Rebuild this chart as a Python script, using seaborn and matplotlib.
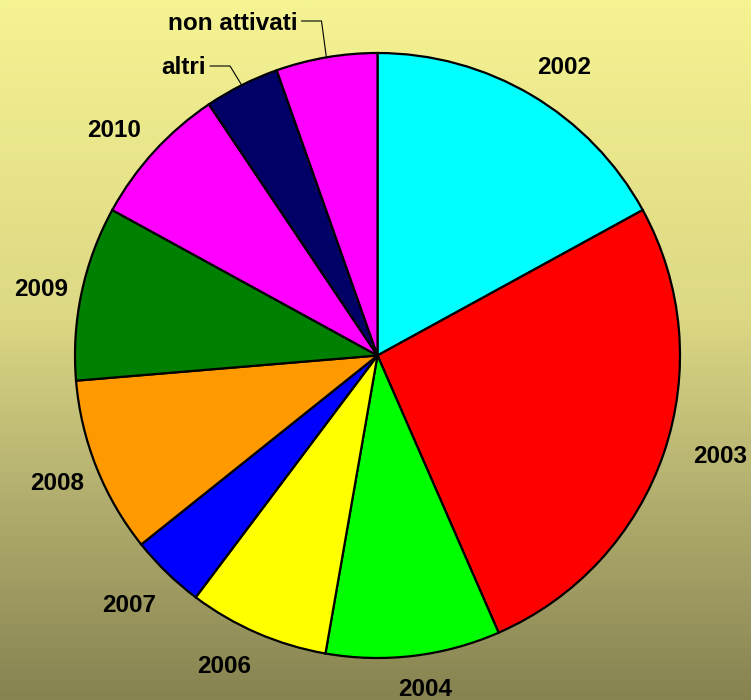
import numpy as np
import matplotlib
matplotlib.use('Agg')
import matplotlib.pyplot as plt
from matplotlib.colors import LinearSegmentedColormap
import seaborn as sns

# ── data (clockwise from 12 o'clock) ─────────────────────────────
labels = ['2002', '2003', '2004', '2006', '2007', '2008', '2009', '2010',
          'altri', 'non attivati']
shares = [17.0, 26.4, 9.3, 7.5, 4.0, 9.4, 9.3, 7.6, 4.0, 5.4]
colors = ['#00FFFF', '#FF0000', '#00FF00', '#FFFF00', '#0000FF', '#FF9900',
          '#008000', '#FF00FF', '#000066', '#FF00FF']

# ── layout (pixels from top-left of the 751x700 picture) ─────────
R = 302.5
cx, cy = 377.5, 355.5
# label anchor: (x, baseline y, horizontal alignment)
label_anchor = {
    '2002': (563.7, 74.3, 'center'),
    '2003': (720.0, 463.0, 'center'),
    '2004': (425.5, 696.5, 'center'),
    '2006': (223.7, 673.3, 'center'),
    '2007': (129.0, 611.5, 'center'),
    '2008': (56.7, 490.5, 'center'),
    '2009': (41.0, 296.5, 'center'),
    '2010': (114.0, 137.3, 'center'),
    'altri': (205.5, 74.0, 'right'),
    'non attivati': (298.0, 30.0, 'right'),
}
# leader lines: (start x, corner x, y) - last point is the slice edge
leader = {'altri': (210, 230, 66), 'non attivati': (301.5, 321.5, 21)}


def px(x, y):
    return (x - cx) / R, (cy - y) / R


sns.set_theme(style='white')
plt.rcParams['font.family'] = ['Liberation Sans', 'DejaVu Sans']

fig = plt.figure(figsize=(7.51, 7.00), dpi=100)
ax = fig.add_axes([0, 0, 1, 1])

x0, x1 = -cx / R, (751 - cx) / R
y0, y1 = (cy - 700) / R, cy / R

# background gradient (light yellow -> olive)
bg = LinearSegmentedColormap.from_list(
    'bg', [(0.0, '#F5F392'), (0.45, '#DCD884'), (0.7, '#B4B070'), (1.0, '#878351')])
grad = np.linspace(0, 1, 256).reshape(-1, 1)
ax.imshow(grad, cmap=bg, aspect='auto', extent=[x0, x1, y0, y1], zorder=0)

wedges, _ = ax.pie(shares, colors=colors, startangle=90, counterclock=False,
                   radius=1.0, wedgeprops=dict(edgecolor='black', linewidth=1.6))
for w in wedges:
    w.set_zorder(2)

for w, lab in zip(wedges, labels):
    tx, ty, ha = label_anchor[lab]
    ax.text(*px(tx, ty), lab, ha=ha, va='baseline', fontsize=17.5,
            fontweight='bold', color='black', zorder=4)
    if lab in leader:
        mid = np.deg2rad((w.theta1 + w.theta2) / 2)
        sx, kx, ly = leader[lab]
        (ax_, ay_), (bx_, by_) = px(sx, ly), px(kx, ly)
        ax.plot([ax_, bx_, np.cos(mid)], [ay_, by_, np.sin(mid)],
                color='black', linewidth=0.8, zorder=3)

ax.set_xlim(x0, x1)
ax.set_ylim(y0, y1)
ax.set_aspect('equal')
ax.axis('off')

plt.savefig('out.png', dpi=100)
